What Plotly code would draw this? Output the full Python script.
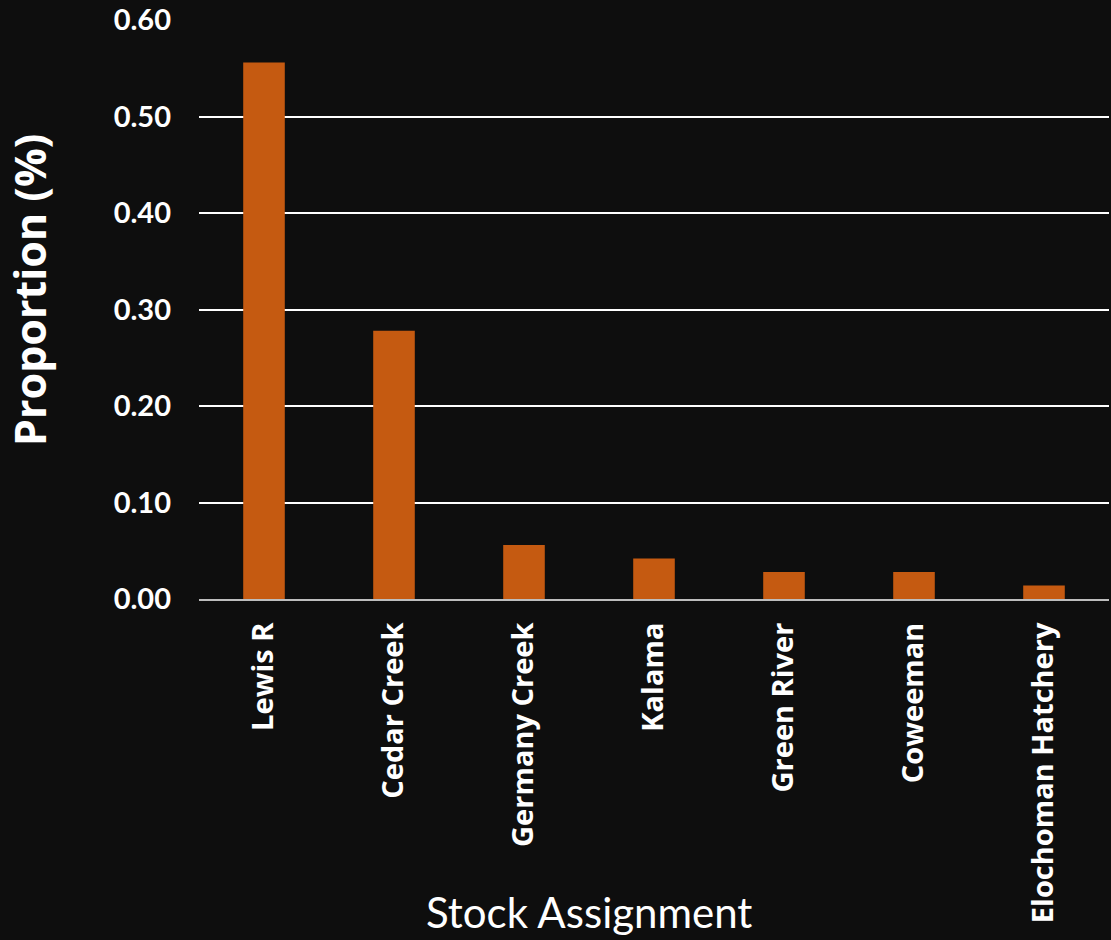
import plotly.graph_objects as go

categories = ["Lewis R", "Cedar Creek", "Germany Creek", "Kalama", "Green River", "Coweeman", "Elochoman Hatchery"]
proportions = [0.556, 0.278, 0.056, 0.042, 0.028, 0.028, 0.014]
y_ticks = [0.0, 0.1, 0.2, 0.3, 0.4, 0.5, 0.6]
y_tick_labels = ["0.00", "0.10", "0.20", "0.30", "0.40", "0.50", "0.60"]

W, H = 1111, 940
L, R, T, B = 199, 2, 20, 341

fig = go.Figure(go.Bar(
    x=categories, y=proportions,
    marker=dict(color="#c55a11", line=dict(width=0)),
    width=0.32,
))

fig.update_layout(
    width=W, height=H,
    margin=dict(l=L, r=R, t=T, b=B),
    paper_bgcolor="#0e0e0e", plot_bgcolor="#0e0e0e",
    showlegend=False,
    font=dict(family="Lato, 'Open Sans', sans-serif", color="white"),
)
fig.update_yaxes(
    range=[0, 0.6], tickvals=y_ticks, ticktext=y_tick_labels,
    showgrid=True, gridcolor="white", gridwidth=2,
    zeroline=False, showline=False,
    tickfont=dict(size=29, family="Lato", color="white", weight="bold"),
    ticks="", ticklabelstandoff=27,
)
fig.update_xaxes(
    tickangle=-90, showline=True, linecolor="#bdbdbd", linewidth=2,
    ticks="", showgrid=False,
    tickfont=dict(size=29, family="Open Sans", color="white", weight="bold"),
    ticklabelstandoff=10,
)
fig.add_annotation(
    text="Proportion (%)", xref="paper", yref="paper",
    x=-(L - 29) / (W - L - R), y=(H - B - 290) / (H - B - T),
    xanchor="center", yanchor="middle", textangle=-90, showarrow=False,
    font=dict(size=43, family="Open Sans", color="white", weight="bold"),
)
fig.add_annotation(
    text="Stock Assignment", xref="paper", yref="paper",
    x=(589 - L) / (W - L - R), y=-(912 - (H - B)) / (H - B - T),
    xanchor="center", yanchor="middle", showarrow=False,
    font=dict(size=42, family="Lato", color="white"),
)

fig.write_html("out.html")
